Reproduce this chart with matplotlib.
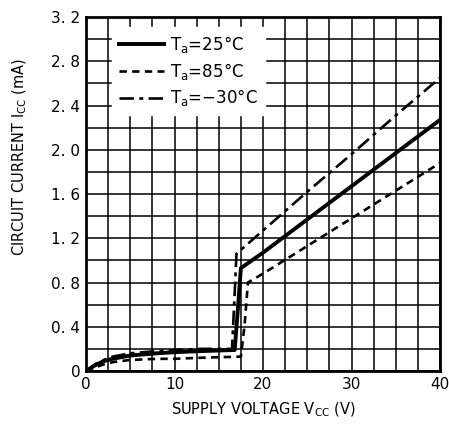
import matplotlib.pyplot as plt
import numpy as np

# supply voltage (V) / circuit current (mA)
v_25 = [0, 1, 2, 3, 5, 8, 10, 13, 16.8, 17.2, 17.5, 20, 25, 30, 35, 40]
i_25 = [0, 0.05, 0.09, 0.11, 0.14, 0.16, 0.17, 0.18, 0.19, 0.6, 0.93, 1.07, 1.37, 1.67, 1.97, 2.27]

v_85 = [0, 1, 2, 3, 5, 8, 10, 13, 17.5, 17.9, 18.3, 20, 25, 30, 35, 40]
i_85 = [0, 0.03, 0.06, 0.08, 0.1, 0.11, 0.11, 0.12, 0.13, 0.4, 0.8, 0.88, 1.13, 1.38, 1.63, 1.88]

v_m30 = [0, 1, 2, 3, 5, 8, 10, 13, 16.5, 16.8, 17.0, 20, 25, 30, 35, 40]
i_m30 = [0, 0.06, 0.1, 0.13, 0.16, 0.18, 0.19, 0.2, 0.2, 0.7, 1.06, 1.27, 1.62, 1.96, 2.31, 2.65]

xticks = [0, 10, 20, 30, 40]
xlabels = ['0', '10', '20', '30', '40']
yticks = [0, 0.4, 0.8, 1.2, 1.6, 2.0, 2.4, 2.8, 3.2]
ylabels = ['0', '0. 4', '0. 8', '1. 2', '1. 6', '2. 0', '2. 4', '2. 8', '3. 2']

plt.rcParams['font.family'] = ['DejaVu Sans']
fig = plt.figure(figsize=(4.49, 4.44), dpi=100)
ax = fig.add_axes([86/449, 1-371/444, 354/449, 354/444])

ax.plot(v_25, i_25, color='black', lw=2.8, linestyle='solid', label='T$_\\mathrm{a}$=25°C')
ax.plot(v_85, i_85, color='black', lw=1.9, linestyle=(0, (2.8, 2)), label='T$_\\mathrm{a}$=85°C')
ax.plot(v_m30, i_m30, color='black', lw=1.9, linestyle=(0, (5.5, 2, 1.5, 2)), label='T$_\\mathrm{a}$=−30°C')

ax.set_xlim(0, 40)
ax.set_ylim(0, 3.2)
ax.set_xticks(np.arange(0, 40.1, 2.5), minor=True)
ax.set_yticks(np.arange(0, 3.21, 0.2), minor=True)
ax.set_xticks(xticks)
ax.set_xticklabels(xlabels)
ax.set_yticks(yticks)
ax.set_yticklabels(ylabels)
ax.grid(which='both', color='black', lw=1.1)
ax.tick_params(which='both', length=0, labelsize=11, pad=4)
for s in ax.spines.values():
    s.set_linewidth(2)

leg = ax.legend(loc='upper left', bbox_to_anchor=(0.05, 0.995), frameon=True, fontsize=12,
                handlelength=2.7, labelspacing=0.35, borderpad=0.4, handletextpad=0.4)
leg.get_frame().set_edgecolor('white')
leg.get_frame().set_alpha(1)
leg.get_frame().set_boxstyle('square', pad=0)

fig.text(263/449, 1-410/444, 'SUPPLY VOLTAGE V$_\\mathrm{CC}$ (V)', fontsize=10.5, ha='center', va='center')
fig.text(20/449, 1-157/444, 'CIRCUIT CURRENT I$_\\mathrm{CC}$ (mA)', fontsize=10.5, ha='center', va='center',
         rotation=90)

fig.savefig('out.png', dpi=100)
